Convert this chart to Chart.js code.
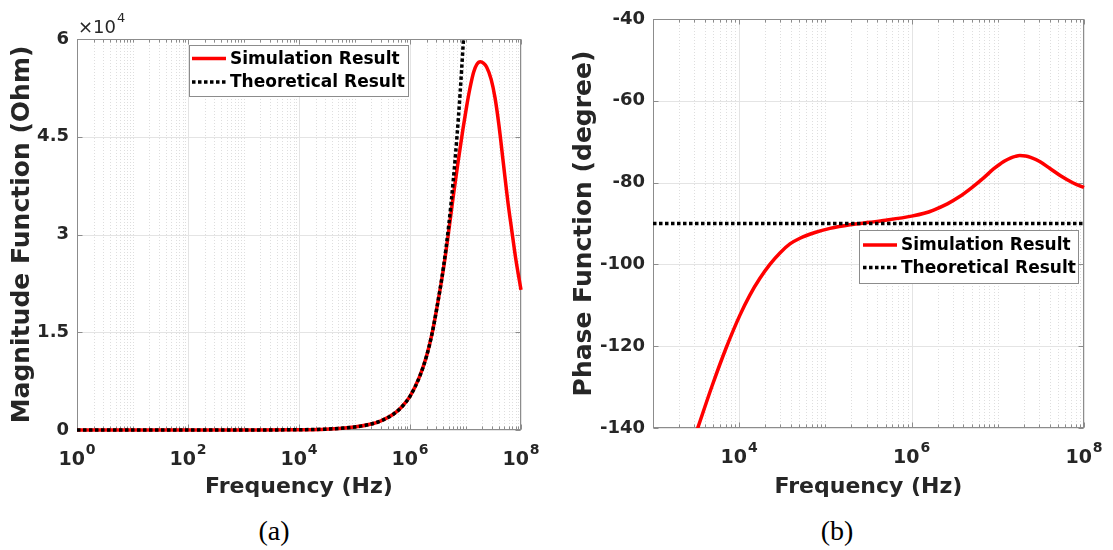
<!DOCTYPE html>
<html>
<head>
<meta charset="utf-8">
<title>Impedance response</title>
<script src="https://cdn.jsdelivr.net/npm/chart.js@4.4.1/dist/chart.umd.min.js"></script>
<style>
  html, body { margin: 0; padding: 0; background: #fff; }
  body { width: 1113px; height: 550px; position: relative; overflow: hidden; }
  .panel { position: absolute; top: 0; height: 505px; }
  #panel-a { left: 0; width: 556px; }
  #panel-b { left: 556px; width: 557px; }
  .caption {
    position: absolute; top: 517px; transform: translateX(-50%);
    font-family: "Liberation Serif", "Times New Roman", serif; font-size: 28px; line-height: 28px; color: #000;
  }
</style>
</head>
<body>
<div class="panel" id="panel-a"><canvas id="chart-a" width="556" height="505"></canvas></div>
<div class="panel" id="panel-b"><canvas id="chart-b" width="557" height="505"></canvas></div>
<div class="caption" style="left:274px">(a)</div>
<div class="caption" style="left:837px">(b)</div>
<script>
// magnitude |Z| (Ohm) vs frequency (Hz)
const magFreq = [1, 10, 100, 1e3, 1e4, 3e4, 1e5, 2e5, 3e5, 5e5, 7e5, 1e6, 1.5e6, 2e6, 2.5e6, 3e6, 4e6, 5e6, 6e6, 7.4e6, 9e6,
  1.05e7, 1.2e7, 1.4e7, 1.6e7, 1.85e7, 2.1e7, 2.4e7, 2.9e7, 3.4e7, 4e7, 4.8e7, 5.8e7, 6.8e7, 8e7, 1e8];
const magSim = [0, 0, 0, 4, 42, 130, 460, 920, 1410, 2410, 3490, 5160, 8260, 11420, 14820, 18400, 24700, 30600, 35800, 41300, 46200,
  49700, 52400, 54900, 56100, 56500, 56300, 55700, 53800, 51000, 46800, 41000, 35000, 30700, 26400, 21500];
const magTheoFreq = [1, 10, 100, 1e3, 1e4, 3e4, 1e5, 2e5, 3e5, 5e5, 7e5, 1e6, 1.5e6, 2e6, 2.5e6, 3e6, 4e6, 5e6, 6e6, 7e6, 8e6, 9e6, 9.2e6];
const magTheo = [0, 0, 0, 4, 42, 130, 460, 920, 1410, 2410, 3490, 5160, 8260, 11420, 14820, 18400, 24950, 31490, 38170, 44900, 51700, 58660, 60030];
const magTicks = [0, 15000, 30000, 45000, 60000];
const magDecades = [1, 1e2, 1e4, 1e6, 1e8];

// phase (degree) vs frequency (Hz)
const phaseFreq = [2685, 3330, 4830, 7030, 10200, 13300, 17400, 22700, 29700, 38800, 50700, 75700, 113000, 193000, 329000, 5e5,
  1e6, 1.4e6, 1.8e6, 2.6e6, 3.5e6, 5e6, 6.8e6, 9e6, 1.09e7, 1.2e7, 1.4e7, 1.6e7, 1.8e7, 2.1e7, 2.4e7, 3.1e7, 4e7, 5.4e7, 7.5e7, 1e8];
const phaseSim = [-145.6, -139.8, -129.8, -120.5, -112.4, -107.5, -103.4, -100.0, -97.2, -95.0, -93.6, -92.2, -91.2, -90.3, -89.7, -89.2,
  -88.2, -87.5, -86.7, -85.2, -83.6, -81.2, -78.9, -76.6, -75.3, -74.7, -74.0, -73.6, -73.4, -73.5, -73.85, -74.9, -76.5, -78.4, -80.1, -81.2];
const phaseTheoFreq = [1e3, 1e8];
const phaseTheo = [-90, -90];
const phaseTicks = [-140, -120, -100, -80, -60, -40];
const phaseDecades = [1e4, 1e6, 1e8];

const seriesLabels = ['Simulation Result', 'Theoretical Result'];

const FONT = "'DejaVu Sans', sans-serif";
const TEXT = '#262626';
const AXIS = '#8c8c8c';

function toPoints(xs, ys) {
  return xs.map((x, i) => ({ x: x, y: ys[i] }));
}

// 2..9 x 10^k positions between lo and hi, without the labelled decades
function minorLines(lo, hi, decades) {
  const vals = [];
  for (let e = Math.floor(Math.log10(lo)); e < Math.ceil(Math.log10(hi)); e++) {
    for (let s = 1; s < 10; s++) {
      const v = s * Math.pow(10, e);
      if (v > lo && v < hi && decades.indexOf(v) < 0) vals.push(v);
    }
  }
  return vals;
}

function seg(ctx, x1, y1, x2, y2) {
  ctx.beginPath();
  ctx.moveTo(x1, y1);
  ctx.lineTo(x2, y2);
  ctx.stroke();
}

function drawPower(ctx, base, exp, cx, y, baseFont, expFont, rise) {
  ctx.font = baseFont;
  const wb = ctx.measureText(base).width;
  ctx.font = expFont;
  const we = ctx.measureText(exp).width;
  const left = cx - (wb + we + 1) / 2;
  ctx.textAlign = 'left';
  ctx.textBaseline = 'alphabetic';
  ctx.font = baseFont;
  ctx.fillText(base, left, y);
  ctx.font = expFont;
  ctx.fillText(exp, left + wb + 1, y - rise);
}

// boxed axes with inner ticks, log grid, power-of-ten labels and an inset legend
function makeFrame(cfg) {
  return {
    id: 'frame',
    beforeDatasetsDraw(chart) {
      const { ctx, chartArea: a, scales: { x, y } } = chart;
      const px = (v) => Math.round(x.getPixelForValue(v)) + 0.5;
      const py = (v) => Math.round(y.getPixelForValue(v)) + 0.5;
      ctx.save();
      ctx.lineWidth = 1;
      ctx.strokeStyle = '#dedede';
      ctx.setLineDash([1, 2]);
      cfg.minor.forEach((v) => seg(ctx, px(v), a.top, px(v), a.bottom));
      ctx.setLineDash([]);
      ctx.strokeStyle = '#e4e4e4';
      cfg.decades.forEach((v) => seg(ctx, px(v), a.top, px(v), a.bottom));
      y.ticks.forEach((t) => seg(ctx, a.left, py(t.value), a.right, py(t.value)));

      ctx.strokeStyle = AXIS;
      const l = Math.round(a.left) + 0.5, r = Math.round(a.right) - 0.5;
      const t = Math.round(a.top) + 0.5, b = Math.round(a.bottom) - 0.5;
      ctx.strokeRect(l, t, r - l, b - t);
      cfg.minor.forEach((v) => { seg(ctx, px(v), b, px(v), b - 3); seg(ctx, px(v), t, px(v), t + 3); });
      cfg.decades.forEach((v) => { seg(ctx, px(v), b, px(v), b - 5); seg(ctx, px(v), t, px(v), t + 5); });
      y.ticks.forEach((tk) => { seg(ctx, l, py(tk.value), l + 5, py(tk.value)); seg(ctx, r, py(tk.value), r - 5, py(tk.value)); });
      ctx.restore();
    },
    afterDatasetsDraw(chart) {
      const { ctx, chartArea: a, scales: { x } } = chart;
      ctx.save();
      ctx.fillStyle = TEXT;
      cfg.decades.forEach((v) => {
        drawPower(ctx, '10', String(Math.round(Math.log10(v))), x.getPixelForValue(v), a.bottom + 35,
          'bold 19px ' + FONT, 'bold 14px ' + FONT, 11);
      });
      if (cfg.note) {
        ctx.fillStyle = TEXT;
        ctx.textAlign = 'left';
        ctx.textBaseline = 'alphabetic';
        ctx.font = '18px ' + FONT;
        ctx.fillText(cfg.note.text, cfg.note.x, cfg.note.y);
        const w = ctx.measureText(cfg.note.text).width;
        ctx.font = '13px ' + FONT;
        ctx.fillText(cfg.note.exp, cfg.note.x + w + 1, cfg.note.y - 11);
      }
      const L = cfg.legend;
      ctx.fillStyle = '#fff';
      ctx.fillRect(L.x, L.y, L.w, L.h);
      ctx.strokeStyle = AXIS;
      ctx.lineWidth = 1;
      ctx.strokeRect(L.x + 0.5, L.y + 0.5, L.w, L.h);
      chart.data.datasets.forEach((ds, i) => {
        const cy = L.y + L.rows[i];
        ctx.strokeStyle = ds.borderColor;
        ctx.lineWidth = ds.borderWidth;
        ctx.setLineDash(ds.borderDash || []);
        seg(ctx, L.x + L.lineFrom, cy, L.x + L.lineTo, cy);
        ctx.setLineDash([]);
        ctx.fillStyle = '#000';
        ctx.font = 'bold 17px ' + FONT;
        ctx.textAlign = 'left';
        ctx.textBaseline = 'middle';
        ctx.fillText(ds.label, L.x + L.textX, cy + 1);
      });
      ctx.restore();
    }
  };
}

function lineSets(simX, simY, theoX, theoY, clip) {
  return [
    {
      label: seriesLabels[0], data: toPoints(simX, simY), borderColor: '#ff0000', borderWidth: 3.5,
      pointRadius: 0, cubicInterpolationMode: 'monotone', order: 1, clip: clip
    },
    {
      label: seriesLabels[1], data: toPoints(theoX, theoY), borderColor: '#000000', borderWidth: 3.5,
      borderDash: [3.5, 2.5], pointRadius: 0, cubicInterpolationMode: 'monotone', order: 0, clip: clip
    }
  ];
}

function axes(o) {
  return {
    x: {
      type: 'logarithmic', min: o.xmin, max: o.xmax,
      ticks: { display: false },
      grid: { display: false, drawTicks: false },
      border: { display: false },
      title: { display: true, text: 'Frequency (Hz)', color: TEXT, font: { family: FONT, size: 22, weight: 'bold' }, padding: { top: 0, bottom: 5 } },
      afterFit: (s) => { s.height = o.xHeight; }
    },
    y: {
      min: o.ymin, max: o.ymax,
      afterBuildTicks: (s) => { s.ticks = o.ticks.map((v) => ({ value: v })); },
      ticks: { color: TEXT, font: { family: FONT, size: 18, weight: 'bold' }, padding: 8, callback: o.fmt },
      grid: { display: false, drawTicks: false },
      border: { display: false },
      title: { display: true, text: o.ytitle, color: TEXT, font: { family: FONT, size: 25, weight: 'bold' }, padding: { top: o.titlePad, bottom: 0 } },
      afterFit: (s) => { s.width = o.yWidth; }
    }
  };
}

const common = {
  responsive: false,
  animation: false,
  events: [],
  plugins: { legend: { display: false }, tooltip: { enabled: false } }
};

new Chart(document.getElementById('chart-a'), {
  type: 'line',
  data: { datasets: lineSets(magFreq, magSim, magTheoFreq, magTheo, { left: 0, top: 0, right: 2, bottom: 3 }) },
  options: Object.assign({}, common, {
    layout: { padding: { left: 0, top: 39, right: 35, bottom: 0 } },
    scales: axes({
      xmin: 1, xmax: 1e8, ymin: 0, ymax: 60000, ticks: magTicks, fmt: (v) => String(v / 1e4),
      ytitle: 'Magnitude Function (Ohm)', titlePad: 7, yWidth: 77, xHeight: 75
    })
  }),
  plugins: [makeFrame({
    decades: magDecades,
    minor: minorLines(1, 1e8, magDecades),
    note: { text: '\u00d710', exp: '4', x: 78, y: 33 },
    legend: { x: 189, y: 45, w: 219, h: 51, rows: [13.5, 37], lineFrom: 3, lineTo: 37, textX: 41 }
  })]
});

new Chart(document.getElementById('chart-b'), {
  type: 'line',
  data: { datasets: lineSets(phaseFreq, phaseSim, phaseTheoFreq, phaseTheo, { left: 0, top: 0, right: 2, bottom: 0 }) },
  options: Object.assign({}, common, {
    layout: { padding: { left: 0, top: 19, right: 29, bottom: 0 } },
    scales: axes({
      xmin: 1e3, xmax: 1e8, ymin: -140, ymax: -40, ticks: phaseTicks, fmt: (v) => String(v),
      ytitle: 'Phase Function (degree)', titlePad: 13, yWidth: 97, xHeight: 77
    })
  }),
  plugins: [makeFrame({
    decades: phaseDecades,
    minor: minorLines(1e3, 1e8, phaseDecades),
    note: null,
    legend: { x: 303, y: 230, w: 219, h: 53, rows: [15, 37.5], lineFrom: 4, lineTo: 38, textX: 42 }
  })]
});
</script>
</body>
</html>
